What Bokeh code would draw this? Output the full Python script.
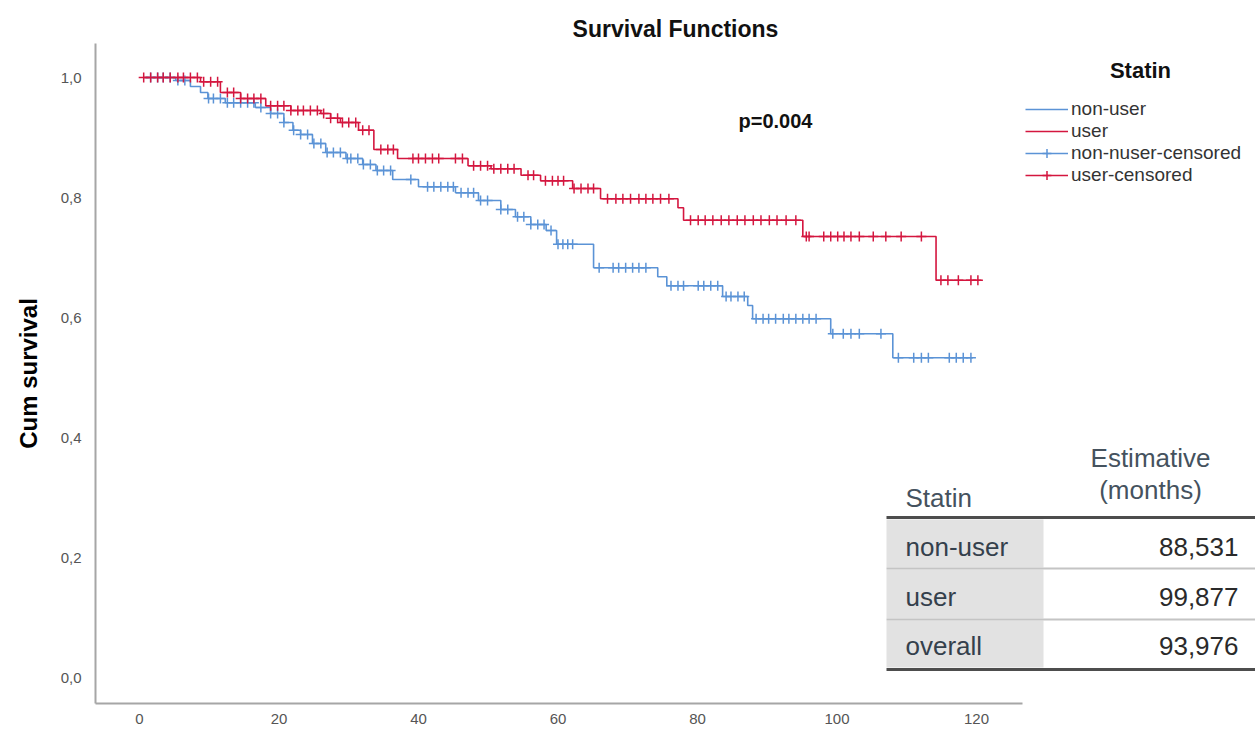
import numpy as np
from bokeh.plotting import figure
from bokeh.models import (Range1d, FixedTicker, CustomJSTickFormatter, Label, Legend,
                          LegendItem, ColumnDataSource)
from bokeh.core.properties import value
from bokeh.embed import file_html
from bokeh.resources import INLINE

# ---------------- data ----------------
start_time = 0.5

nonuser_event_times = [5.2, 7.3, 8.75, 9.8, 12.3, 16.6, 18.8, 20.7, 22.0, 23.1, 24.8, 26.7,
                       29.6, 32.0, 33.9, 36.3, 40.0, 45.3, 48.6, 51.8, 53.9, 56.1, 58.3,
                       59.8, 65.1, 74.3, 75.6, 83.6, 87.2, 87.9, 99.1, 108.0]
nonuser_survival = [0.995, 0.985, 0.975, 0.965, 0.958, 0.950, 0.940, 0.925, 0.912, 0.905,
                    0.890, 0.875, 0.865, 0.855, 0.845, 0.830, 0.818, 0.808, 0.795, 0.780,
                    0.768, 0.755, 0.745, 0.722, 0.683, 0.668, 0.653, 0.635, 0.620, 0.598,
                    0.573, 0.533]
nonuser_last_time = 119.5
nonuser_censored = [1.6, 2.6, 3.4, 4.4, 5.5, 6.5, 9.9, 10.6, 11.6, 12.6, 13.5, 14.5, 15.5,
                    16.4, 17.4, 18.8, 19.8, 20.7, 22.1, 23.1, 24.1, 25.0, 26.0, 26.9, 27.8,
                    28.8, 29.8, 30.3, 31.3, 32.1, 33.1, 34.1, 35.0, 36.0, 38.9, 41.3, 42.2,
                    43.2, 44.2, 45.0, 46.1, 47.1, 47.9, 48.9, 49.9, 51.8, 52.8, 54.2, 55.1,
                    56.1, 57.1, 58.0, 59.0, 60.0, 60.7, 61.4, 62.1, 65.9, 67.9, 68.7, 69.7,
                    70.7, 71.6, 72.6, 76.2, 77.2, 78.0, 80.1, 80.9, 81.9, 82.9, 84.1, 84.8,
                    85.8, 86.7, 88.4, 89.4, 90.2, 91.2, 92.3, 93.1, 94.1, 95.1, 96.0, 97.0,
                    99.4, 100.9, 102.0, 103.2, 106.3, 108.8, 111.0, 112.1, 113.1, 116.1,
                    117.1, 118.1, 119.2]

user_event_times = [8.75, 11.6, 14.5, 18.1, 21.7, 26.0, 27.4, 28.8, 31.4, 33.6, 37.0, 47.1,
                    50.4, 54.7, 57.5, 62.1, 66.1, 77.2, 78.0, 95.1, 114.2]
user_survival = [0.993, 0.975, 0.965, 0.953, 0.945, 0.940, 0.932, 0.925, 0.912, 0.880,
                 0.865, 0.853, 0.848, 0.837, 0.828, 0.815, 0.798, 0.783, 0.762, 0.735, 0.662]
user_last_time = 120.7
user_censored = [0.6, 1.6, 2.6, 3.4, 4.4, 5.5, 6.3, 7.3, 8.3, 9.2, 10.2, 11.2, 12.6, 13.5,
                 14.5, 15.5, 16.4, 17.4, 18.8, 19.8, 20.7, 21.7, 22.7, 23.5, 24.5, 25.5,
                 26.4, 27.4, 28.4, 29.1, 30.0, 31.0, 32.0, 32.9, 34.6, 35.6, 36.4, 39.2,
                 40.0, 41.0, 42.0, 42.9, 45.3, 46.3, 47.9, 48.9, 49.9, 50.8, 51.8, 52.8,
                 53.7, 55.7, 56.5, 58.2, 59.2, 60.0, 60.8, 62.3, 63.3, 64.3, 65.1, 67.1,
                 68.3, 69.3, 70.4, 71.6, 72.6, 73.6, 74.7, 75.9, 79.0, 80.1, 81.1, 82.2,
                 83.4, 84.5, 85.7, 86.8, 88.0, 89.1, 90.3, 91.4, 92.7, 94.1, 95.6, 96.0,
                 98.1, 99.1, 100.1, 101.0, 102.0, 103.2, 105.2, 107.0, 109.2, 112.1,
                 114.9, 115.9, 117.4, 119.2, 120.2]

x_ticks = [0, 20, 40, 60, 80, 100, 120]
y_ticks = [0.0, 0.2, 0.4, 0.6, 0.8, 1.0]

legend_labels = ["non-user", "user", "non-nuser-censored", "user-censored"]
table_header_group = "Statin"
table_header_value = ["Estimative", "(months)"]
table_groups = ["non-user", "user", "overall"]
table_estimates = [88.531, 99.877, 93.976]
p_value_text = "p=0.004"

# ---------------- style / layout ----------------
BLUE = "#5b93d6"
RED = "#d4163f"
FONT = "Liberation Sans"
W, H = 1255, 732

# pixel calibration of the reference (for annotation placement)
X0, XS = 139.0, 6.975
Y0, YS = 677.0, 600.0


def dx(px):
    return (px - X0) / XS


def dy(py):
    return (Y0 - py) / YS


p = figure(width=W, height=H, output_backend="svg", toolbar_location=None,
           x_range=Range1d(dx(95), dx(1255)), y_range=Range1d(dy(703), dy(43)),
           min_border_left=95, min_border_right=0, min_border_top=43, min_border_bottom=29)
p.outline_line_color = None
p.xgrid.visible = False
p.ygrid.visible = False
p.background_fill_color = "white"

p.title.text = "Survival Functions"
p.title.align = "center"
p.title.text_font = FONT
p.title.text_font_size = "23px"
p.title.text_font_style = "bold"
p.title.text_color = "#111111"
p.title.standoff = 3


def step_arrays(times, surv, last):
    xs = [start_time] + list(times) + [last]
    ys = [1.0] + list(surv) + [surv[-1]]
    return xs, ys


def censor_y(times, surv, cens):
    t = np.array([start_time] + list(times))
    s = np.array([1.0] + list(surv))
    idx = np.searchsorted(t, np.array(cens), side="right") - 1
    return s[idx]


nx, ny = step_arrays(nonuser_event_times, nonuser_survival, nonuser_last_time)
ux, uy = step_arrays(user_event_times, user_survival, user_last_time)

r_n = p.step(nx, ny, mode="after", line_color=BLUE, line_width=1.6)
r_u = p.step(ux, uy, mode="after", line_color=RED, line_width=1.6)
r_nc = p.scatter(nonuser_censored, censor_y(nonuser_event_times, nonuser_survival, nonuser_censored),
                 marker="cross", size=10, line_color=BLUE, line_width=1.5)
r_uc = p.scatter(user_censored, censor_y(user_event_times, user_survival, user_censored),
                 marker="cross", size=10, line_color=RED, line_width=1.5)

legend = Legend(items=[
    LegendItem(label=legend_labels[0], renderers=[r_n]),
    LegendItem(label=legend_labels[1], renderers=[r_u]),
    LegendItem(label=legend_labels[2], renderers=[r_n, r_nc]),
    LegendItem(label=legend_labels[3], renderers=[r_u, r_uc]),
], location=(930, 517), orientation="vertical")
legend.label_text_font = FONT
legend.label_text_font_size = "19px"
legend.label_text_color = "#333333"
legend.label_height = 22
legend.glyph_height = 22
legend.glyph_width = 43
legend.label_standoff = 3
legend.spacing = 0
legend.padding = 0
legend.margin = 0
legend.border_line_color = None
legend.background_fill_alpha = 0
p.add_layout(legend, "center")

# axes
for ax in (p.xaxis[0], p.yaxis[0]):
    ax.axis_line_color = "#a6a6a6"
    ax.axis_line_width = 2
    ax.major_tick_in = 0
    ax.major_tick_out = 0
    ax.minor_tick_in = 0
    ax.minor_tick_out = 0
    ax.major_label_text_font = FONT
    ax.major_label_text_font_size = "15px"
    ax.major_label_text_color = "#555555"

p.xaxis.ticker = FixedTicker(ticks=x_ticks)
p.xaxis.bounds = (dx(95), dx(1022))
p.xaxis.major_label_standoff = 10
p.yaxis.ticker = FixedTicker(ticks=y_ticks)
p.yaxis.formatter = CustomJSTickFormatter(code="return tick.toFixed(1).replace('.', ',');")
p.yaxis.major_label_standoff = 14
p.yaxis.axis_label = "Cum survival"
p.yaxis.axis_label_text_font = FONT
p.yaxis.axis_label_text_font_size = "24px"
p.yaxis.axis_label_text_font_style = "bold"
p.yaxis.axis_label_text_color = "#000000"
p.yaxis.axis_label_standoff = 16

# p value and legend title (screen units relative to frame)
p.add_layout(Label(x=680, y=583, x_units="screen", y_units="screen", text=p_value_text,
                   text_font=FONT, text_font_size="20px", text_font_style="bold",
                   text_align="center", text_baseline="middle", text_color="#111111"))
p.add_layout(Label(x=1045, y=633, x_units="screen", y_units="screen", text="Statin",
                   text_font=FONT, text_font_size="22px", text_font_style="bold",
                   text_align="center", text_baseline="middle", text_color="#111111"))

# ---------------- table ----------------
row_top = [519, 569, 620]
row_bot = [567, 618, 667]
row_mid = [546, 596, 645]
p.quad(left=dx(886), right=dx(1043), top=[dy(v) for v in row_top], bottom=[dy(v) for v in row_bot],
       fill_color="#e2e2e2", line_color=None)
p.segment(x0=dx(886), x1=dx(1255), y0=[dy(568), dy(619)], y1=[dy(568), dy(619)],
          line_color="#c4c4c4", line_width=2)
p.segment(x0=dx(886), x1=dx(1255), y0=[dy(517), dy(669)], y1=[dy(517), dy(669)],
          line_color="#4d4d4d", line_width=3)

tbl = ColumnDataSource(dict(
    gx=[dx(905)] * 3, gy=[dy(v) for v in row_mid], gtext=table_groups,
    vx=[dx(1238)] * 3, vtext=[f"{v:.3f}".replace(".", ",") for v in table_estimates],
))
p.text(x="gx", y="gy", text="gtext", source=tbl, text_font=value(FONT), text_font_size="26px",
       text_color="#34404c", text_align="left", text_baseline="middle")
p.text(x="vx", y="gy", text="vtext", source=tbl, text_font=value(FONT), text_font_size="26px",
       text_color="#2a2a2a", text_align="right", text_baseline="middle")
p.text(x=[dx(905)], y=[dy(497)], text=[table_header_group], text_font=value(FONT),
       text_font_size="26px", text_color="#45525e", text_align="left", text_baseline="middle")
p.text(x=[dx(1150), dx(1150)], y=[dy(457), dy(489)], text=table_header_value,
       text_font=value(FONT), text_font_size="26px", text_color="#45525e",
       text_align="center", text_baseline="middle")

open("out.html", "w").write(file_html(p, INLINE))
